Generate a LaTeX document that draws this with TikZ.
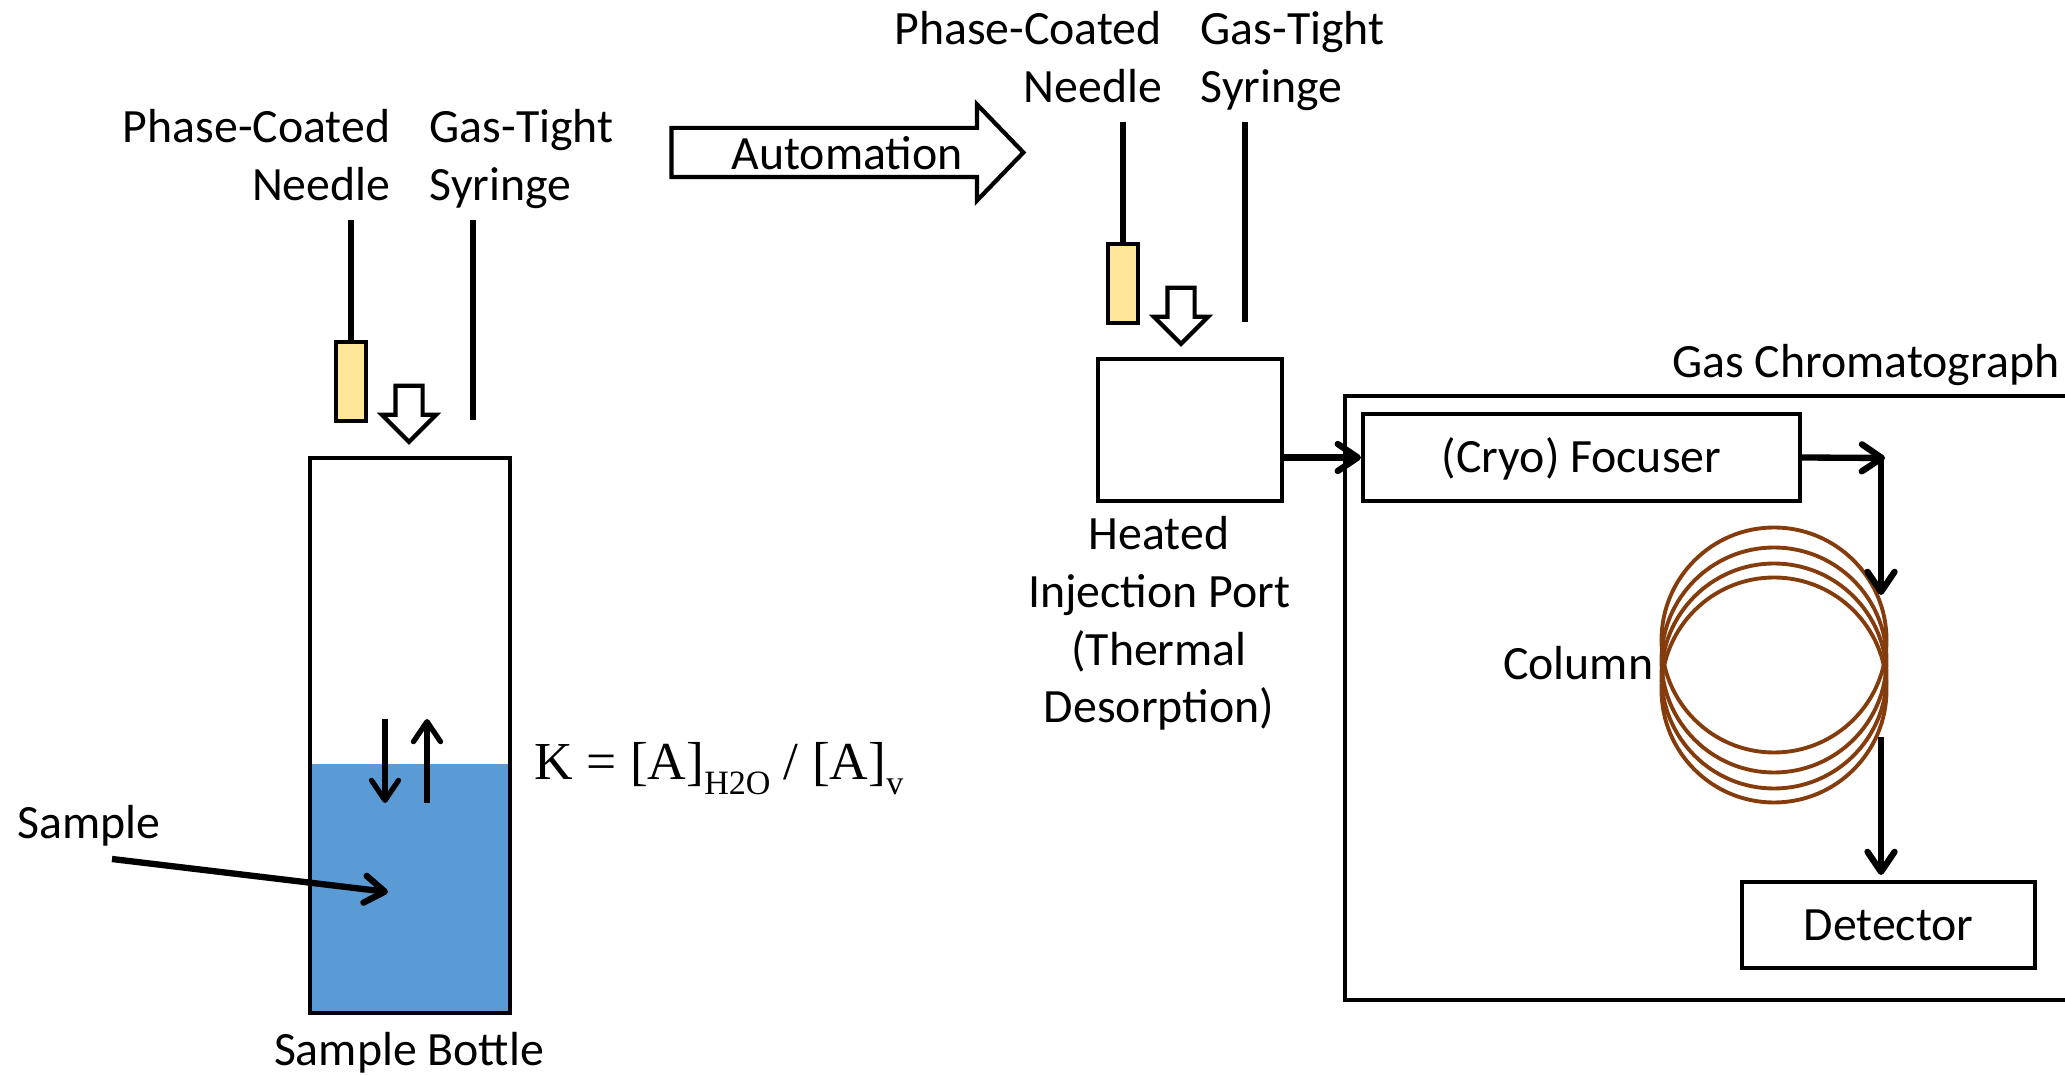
\documentclass[tikz,border=0pt]{standalone}
\usepackage{xcolor}
\usepackage{fontspec}
\setmainfont{Carlito}
\newfontfamily\formulafont{Liberation Serif}
\usetikzlibrary{positioning,arrows.meta,shapes.arrows}
\definecolor{waterblue}{HTML}{5B9BD5}
\definecolor{tipyellow}{HTML}{FFE699}
\definecolor{coilbrown}{HTML}{843C0C}
\tikzset{
  >={Straight Barb[length=0.2cm,width=0.27cm,round]},
  labeltext/.style={inner sep=0pt, font=\fontsize{13.6}{16.5}\selectfont},
  box/.style={draw, line width=1.2pt, inner sep=0pt, text height=9.8pt, text depth=1pt, font=\fontsize{13.6}{16.5}\selectfont},
  coating/.style={draw, line width=1.2pt, fill=tipyellow, inner sep=0pt, minimum width=0.30cm},
  coil/.style={draw=coilbrown, line width=1.1pt, circle, inner sep=0pt, minimum size=2.25cm},
  rod/.style={line width=1.7pt},
  flow/.style={->, line width=1.8pt},
  downarrow/.style={draw, line width=1.2pt, fill=white, single arrow, inner xsep=0.115cm, inner ysep=0pt, shape border rotate=270,
    minimum height=0.56cm, minimum width=0.50cm, single arrow head extend=0.135cm, single arrow tip angle=90}
}
\begin{document}
\begin{tikzpicture}
\useasboundingbox (0,0) rectangle (20.65,10.74);

\node[fill=waterblue, inner sep=0pt, minimum width=2.00cm, minimum height=2.49cm] (water) at (4.10,1.855) {};
\node[box, minimum width=2.00cm, minimum height=5.55cm] (bottle) at (4.10,3.385) {};
\node[labeltext, anchor=base] (bottle_label) at (4.09,0.09) {Sample Bottle};
\node[labeltext, anchor=base] (sample_label) at (0.89,2.36) {Sample};
\node[anchor=base west, inner sep=0pt, font=\formulafont\fontsize{15.2}{16}\selectfont] (formula) at (5.34,2.94)
    {K = [A]\raisebox{-4pt}{\fontsize{9.7}{10}\selectfont H2O} / [A]\raisebox{-4pt}{\fontsize{9.7}{10}\selectfont v}};

\coordinate (sample_start) at (1.12,2.15);
\coordinate (sample_end) at (3.88,1.82);
\coordinate (down_start) at (3.85,3.55);
\coordinate (down_end) at (3.85,2.71);
\coordinate (up_start) at (4.27,2.71);
\coordinate (up_end) at (4.27,3.55);
\draw[flow] (sample_start) -- (sample_end);
\draw[->, line width=1.5pt] (down_start) -- (down_end);
\draw[->, line width=1.5pt] (up_start) -- (up_end);

\node[labeltext, anchor=base east, align=right] (needle_label_0) at (3.91,8.73) {Phase-Coated\\Needle};
\node[labeltext, anchor=base west, align=left] (syringe_label_0) at (4.29,8.73) {Gas-Tight\\Syringe};
\node[coating, minimum height=0.79cm] (tip_0) at (3.51,6.925) {};
\coordinate (needle_top_0) at (3.51,8.54);
\coordinate (syringe_top_0) at (4.73,8.54);
\coordinate (syringe_end_0) at (4.73,6.54);
\draw[rod] (needle_top_0) -- (tip_0.north);
\draw[rod] (syringe_top_0) -- (syringe_end_0);
\node[downarrow] (insert_0) at (4.09,6.67) {};

\node[draw, line width=1.2pt, single arrow, inner xsep=0pt, inner ysep=0.225cm, minimum height=3.52cm, minimum width=0.92cm,
    single arrow head extend=0.235cm, single arrow tip angle=92] (automation) at (8.355,9.215) {};
\node[labeltext, anchor=base] (automation_label) at (8.47,9.04) {Automation};

\node[labeltext, anchor=base east, align=right] (needle_label_1) at (11.625,9.715) {Phase-Coated\\Needle};
\node[labeltext, anchor=base west, align=left] (syringe_label_1) at (12.00,9.715) {Gas-Tight\\Syringe};
\node[coating, minimum height=0.79cm] (tip_1) at (11.23,7.905) {};
\coordinate (needle_top_1) at (11.23,9.52);
\coordinate (syringe_top_1) at (12.45,9.52);
\coordinate (syringe_end_1) at (12.45,7.52);
\draw[rod] (needle_top_1) -- (tip_1.north);
\draw[rod] (syringe_top_1) -- (syringe_end_1);
\node[downarrow] (insert_1) at (11.81,7.65) {};

\node[box, minimum width=1.84cm, minimum height=1.42cm] (port) at (11.90,6.44) {};
\node[labeltext, anchor=base, align=center] (port_label) at (11.59,3.51) {Heated\\Injection Port\\(Thermal\\Desorption)};

\node[box, minimum width=7.55cm, minimum height=6.04cm] (chromatograph) at (17.225,3.76) {};
\node[labeltext, anchor=base east] (chromatograph_label) at (20.60,6.965) {Gas Chromatograph};
\node[box, minimum width=4.37cm, minimum height=0.87cm] (focuser) at (15.815,6.165) {(Cryo) Focuser};
\node[box, minimum width=2.93cm, minimum height=0.86cm] (detector) at (18.885,1.49) {Detector};

\node[coil] (coil_0) at (17.74,4.34) {};
\node[coil] (coil_1) at (17.74,4.14) {};
\node[coil] (coil_2) at (17.74,3.98) {};
\node[coil] (coil_3) at (17.74,3.84) {};
\node[labeltext, anchor=base east] (column_label) at (16.54,3.94) {Column};

\coordinate (focuser_end) at (18.85,6.16);
\coordinate (coil_in_start) at (18.81,6.16);
\coordinate (coil_in) at (18.81,4.79);
\coordinate (coil_out) at (18.81,3.37);
\coordinate (detector_in) at (18.81,1.99);
\draw[flow] (port.east |- focuser.west) -- (focuser.west);
\draw[flow] (focuser.east) -- (focuser_end);
\draw[flow] (coil_in_start) -- (coil_in);
\draw[flow] (coil_out) -- (detector_in);

\end{tikzpicture}
\end{document}
